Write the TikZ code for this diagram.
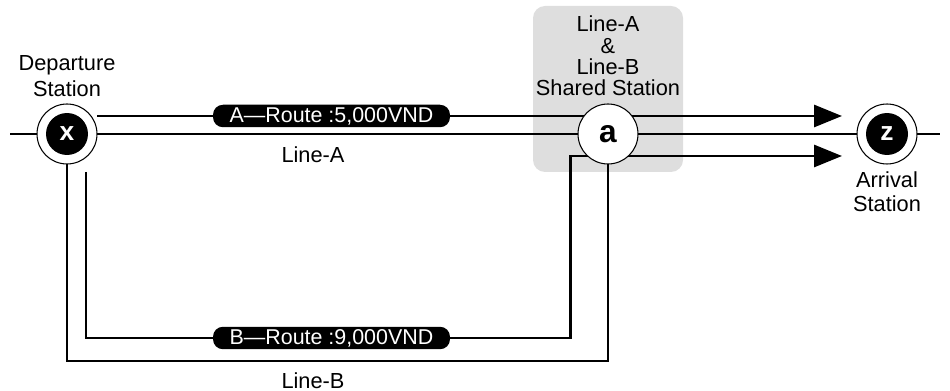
\documentclass[tikz,border=0pt]{standalone}
\usepackage{fontspec}
\setmainfont{Liberation Sans}
\usetikzlibrary{arrows.meta}
\begin{document}
\begin{tikzpicture}[x=0.02cm,y=-0.02cm,
  thinline/.style={line width=0.6pt,draw=black},
  thickline/.style={line width=1.7pt,draw=black,line join=miter},
  arrowline/.style={thickline,-{Triangle[length=0.56cm,width=0.44cm]}},
  station/.style={circle,draw=black,line width=0.6pt,fill=white,minimum size=1.2cm,inner sep=0pt},
  core/.style={circle,fill=black,minimum size=0.84cm,inner sep=0pt,text=white,font=\fontsize{15}{15}\selectfont\bfseries},
  price/.style={rounded corners=0.2cm,fill=black,text=white,minimum height=0.45cm,minimum width=4.74cm,inner sep=0pt,font=\fontsize{12.2}{12.2}\selectfont},
  lbl/.style={align=center,inner sep=0pt,font=\fontsize{12.4}{12.2}\selectfont},
  sharedbox/.style={fill=black!13,rounded corners=0.24cm},
]
\useasboundingbox (0,0) rectangle (950,391);

% shared station background
\path[sharedbox] (533,6) rectangle (683,172);
\node[lbl] (shared) at (608,56) {Line-A\\\&\\Line-B\\Shared Station};

% coordinates
\coordinate (L) at (10,134);
\coordinate (R) at (940,134);
\coordinate (lb) at (300,361);
\coordinate (a0) at (97,116);
\coordinate (ta) at (842,116);
\coordinate (b0) at (86,172);
\coordinate (b1) at (86,338);
\coordinate (b2) at (570,338);
\coordinate (b3) at (570,156);
\coordinate (tb) at (842,156);

% stations (positions)
\path (67,134) coordinate (xc) (608,134) coordinate (ac) (887,134) coordinate (zc);

% thin lines
\draw[thinline] (L) -- (xc) -- (ac) -- (zc) -- (R);
\draw[thinline] (xc) |- (lb) -| (ac);

% thick routes
\draw[arrowline] (a0) -- (ta);
\draw[arrowline] (b0) -- (b1) -- (b2) -- (b3) -- (tb);

% station circles
\node[station] (x) at (xc) {};
\node[core] (xi) at (xc) {x};
\node[station,font=\fontsize{18}{18}\selectfont\bfseries] (a) at (ac) {a};
\node[station] (z) at (zc) {};
\node[core] (zi) at (zc) {z};

% route price labels
\node[price] (pa) at (331.5,116) {A—Route :5,000VND};
\node[price] (pb) at (331.5,338) {B—Route :9,000VND};

% texts
\node[lbl,font=\fontsize{12.4}{15}\selectfont] (dep) at (67,76) {Departure\\Station};
\node[lbl,font=\fontsize{12.4}{13.5}\selectfont] (arr) at (887,192) {Arrival\\Station};
\node[lbl] (la) at (313,155) {Line-A};
\node[lbl] (lbB) at (313,381) {Line-B};
\end{tikzpicture}
\end{document}
